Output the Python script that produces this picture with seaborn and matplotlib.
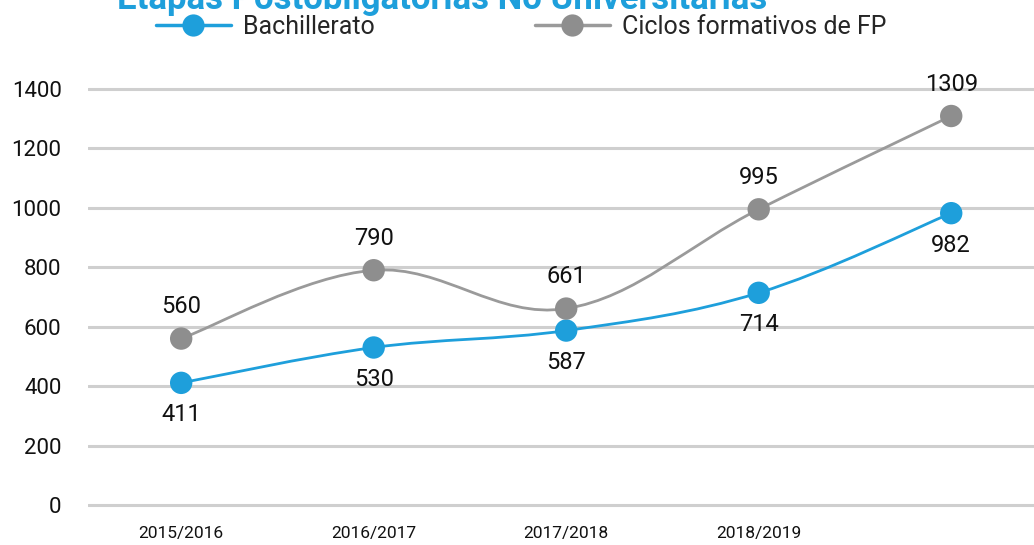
import matplotlib
matplotlib.use("Agg")
import matplotlib.pyplot as plt
import seaborn as sns
import numpy as np
import pandas as pd
from matplotlib.path import Path
from matplotlib.patches import PathPatch
from matplotlib.lines import Line2D

categories = ["2015/2016", "2016/2017", "2017/2018", "2018/2019", "2019/2020"]
tick_labels = ["2015/2016", "2016/2017", "2017/2018", "2018/2019"]
bachillerato = [411, 530, 587, 714, 982]
ciclos_fp = [560, 790, 661, 995, 1309]
yticks = [0, 200, 400, 600, 800, 1000, 1200, 1400]

BLUE = "#1e9fdb"
GRAY = "#8e8e8e"
GRID = "#cfcfcf"
NUMFONT = ["Roboto", "DejaVu Sans"]

sns.set_theme(style="white")
plt.rcParams['font.family'] = ['Roboto', 'DejaVu Sans']

fig = plt.figure(figsize=(10.34, 5.45), dpi=100)
ax = fig.add_axes([88/1034, 25/545, 1 - 88/1034, 445/545])

df = pd.DataFrame({
    "x": list(range(len(categories))) * 2,
    "value": bachillerato + ciclos_fp,
    "serie": ["Bachillerato"] * 5 + ["Ciclos formativos de FP"] * 5,
})

def smooth_path(xs, ys, t=0.18):
    xs = np.asarray(xs, float); ys = np.asarray(ys, float)
    verts = [(xs[0], ys[0])]; codes = [Path.MOVETO]
    n = len(xs)
    for i in range(n - 1):
        p0 = (xs[max(i-1, 0)], ys[max(i-1, 0)])
        p1 = (xs[i], ys[i]); p2 = (xs[i+1], ys[i+1])
        p3 = (xs[min(i+2, n-1)], ys[min(i+2, n-1)])
        c1 = (p1[0] + (p2[0]-p0[0])*t, p1[1] + (p2[1]-p0[1])*t)
        c2 = (p2[0] - (p3[0]-p1[0])*t, p2[1] - (p3[1]-p1[1])*t)
        verts += [c1, c2, p2]; codes += [Path.CURVE4]*3
    return Path(verts, codes)

xs = np.arange(len(categories))
for vals, col in [(ciclos_fp, "#9a9a9a"), (bachillerato, BLUE)]:
    ax.add_patch(PathPatch(smooth_path(xs, vals), facecolor="none",
                           edgecolor=col, lw=2.0, zorder=3))

sns.scatterplot(data=df, x="x", y="value", hue="serie",
                palette={"Bachillerato": BLUE, "Ciclos formativos de FP": GRAY},
                s=260, edgecolor="none", legend=False, ax=ax, zorder=4)

for i, v in enumerate(ciclos_fp):
    ax.annotate(str(v), (i, v), xytext=(0, 23), textcoords="offset points",
                ha="center", va="center", fontsize=17, family=NUMFONT, color="#111111")
for i, v in enumerate(bachillerato):
    ax.annotate(str(v), (i, v), xytext=(0, -23), textcoords="offset points",
                ha="center", va="center", fontsize=17, family=NUMFONT, color="#111111")

for y in yticks:
    ax.axhline(y, color=GRID, lw=2.2, zorder=1)

ax.set_xlim(-0.484, 4.43)
ax.set_ylim(-50.5, 1447)
ax.set_yticks(yticks)
ax.set_yticklabels([str(y) for y in yticks], family=NUMFONT, fontsize=16, color="#111111")
ax.set_xticks(range(len(tick_labels)))
ax.set_xticklabels(tick_labels, family=NUMFONT, fontsize=12.5, color="#111111")
ax.tick_params(axis="y", length=0, pad=19)
ax.tick_params(axis="x", length=0, pad=4)
ax.set_xlabel(""); ax.set_ylabel("")
for s in ax.spines.values():
    s.set_visible(False)
ax.grid(False)

fig.text(442/1034, 1.0, "Etapas Postobligatorias No Universitarias", ha="center",
         va="center", fontsize=25, fontweight="bold", color=BLUE)

handles = [
    Line2D([0], [0], color=BLUE, lw=2.5, marker="o", markersize=16, markeredgewidth=0),
    Line2D([0], [0], color="#9a9a9a", lw=2.5, marker="o", markersize=16, markeredgewidth=0,
           markerfacecolor=GRAY),
]
fig.legend(handles, ["Bachillerato", "Ciclos formativos de FP"], ncol=2,
           loc="center left", bbox_to_anchor=(133/1034, 1 - 27/545), frameon=False,
           fontsize=18, handlelength=3.0, columnspacing=6.4, handletextpad=0.5)

fig.savefig("out.png", dpi=100)
